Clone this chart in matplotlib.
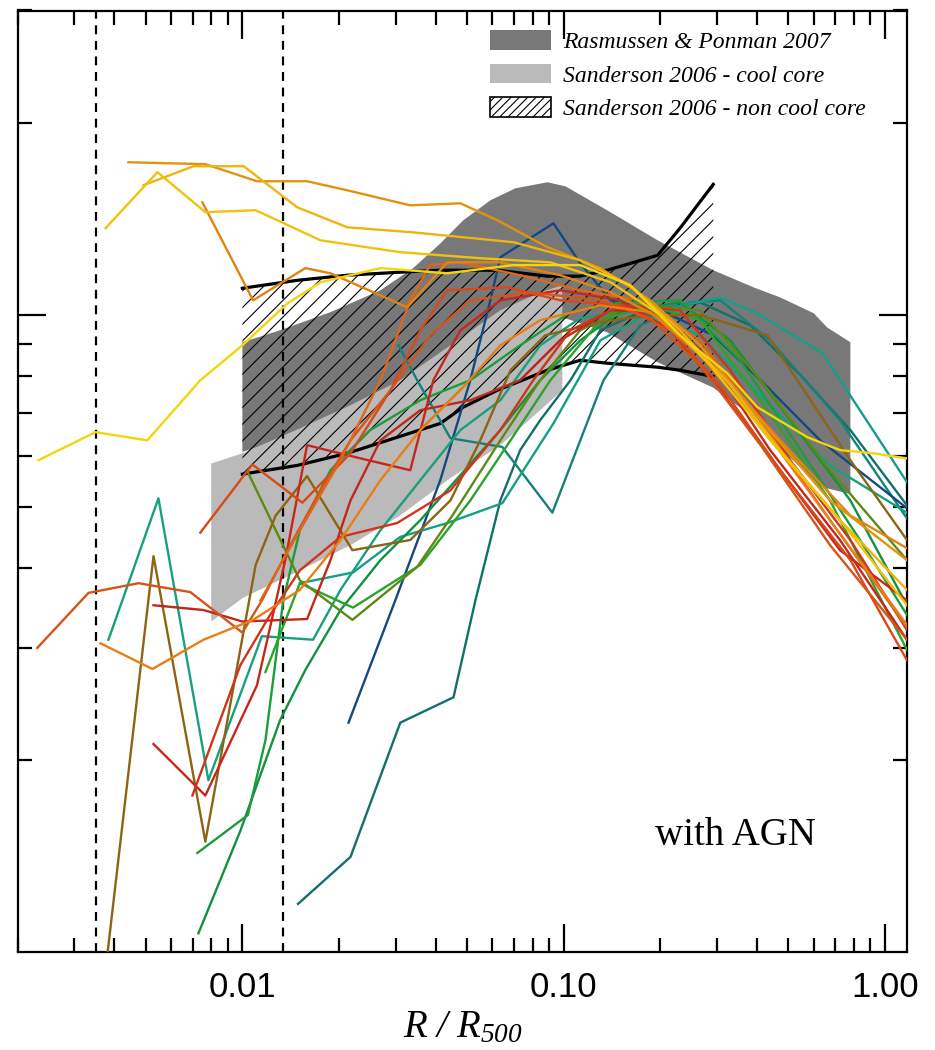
import matplotlib
matplotlib.use('agg')
import matplotlib.pyplot as plt
from matplotlib.patches import Patch
from matplotlib.ticker import FixedLocator, FixedFormatter, LogLocator, NullFormatter

plt.rcParams['hatch.linewidth'] = 0.8
plt.rcParams['mathtext.fontset'] = 'custom'
plt.rcParams['mathtext.it'] = 'Liberation Serif:italic'
plt.rcParams['mathtext.rm'] = 'Liberation Serif:italic'

# Rasmussen & Ponman 2007 (banda gris oscura)
rp_r = [0.0100, 0.0131, 0.0188, 0.0269, 0.0340, 0.0413, 0.0487, 0.0591, 0.0707, 0.0889,
        0.1011, 0.1365, 0.196, 0.292, 0.389, 0.472, 0.600, 0.660, 0.780]
rp_hi = [0.905, 0.945, 1.009, 1.092, 1.183, 1.293, 1.406, 1.511, 1.578, 1.613,
         1.590, 1.458, 1.308, 1.174, 1.104, 1.064, 1.005, 0.955, 0.905]
rp_lo = [0.609, 0.635, 0.671, 0.713, 0.747, 0.782, 0.812, 0.848, 0.885, 0.945,
         0.987, 0.938, 0.842, 0.768, 0.690, 0.617, 0.550, 0.534, 0.523]

# Sanderson 2006 - cool core (gris claro)
cc_r = [0.0080, 0.0100, 0.0151, 0.0217, 0.031, 0.0444, 0.0635, 0.0845, 0.099]
cc_hi = [0.584, 0.606, 0.663, 0.721, 0.789, 0.895, 1.016, 1.084, 1.112]
cc_lo = [0.330, 0.359, 0.397, 0.435, 0.484, 0.554, 0.624, 0.708, 0.761]

# Sanderson 2006 - non cool core (rayado)
ncc_r = [0.0100, 0.01483, 0.0212, 0.0303, 0.0413, 0.0487, 0.0622, 0.0889, 0.1125,
         0.1365, 0.196, 0.230, 0.292]
ncc_hi = [1.100, 1.132, 1.153, 1.165, 1.174, 1.174, 1.174, 1.149, 1.149,
          1.174, 1.239, 1.366, 1.601]
ncc_lo = [0.562, 0.580, 0.606, 0.642, 0.675, 0.716, 0.761, 0.818, 0.848,
          0.839, 0.827, 0.818, 0.800]

# radios de resolucion (lineas discontinuas)
r_lineas = [0.0035, 0.0134]

# perfiles simulados
p01_r = [0.00232, 0.00349, 0.00506, 0.0074, 0.0100, 0.0138, 0.0175, 0.0269, 0.0434, 0.0698,
         0.1125, 0.161, 0.230, 0.323, 0.400, 0.574, 0.724, 0.919, 1.17]
p01_k = [0.591, 0.654, 0.635, 0.789, 0.895, 1.041, 1.124, 1.183, 1.161, 1.196,
         1.196, 1.112, 0.928, 0.809, 0.716, 0.642, 0.613, 0.606, 0.595]
p02_r = [0.00492, 0.00704, 0.0101, 0.0148, 0.0212, 0.0340, 0.0698, 0.1125, 0.161, 0.230,
         0.330, 0.472, 0.724, 1.17]
p02_k = [1.596, 1.709, 1.709, 1.474, 1.371, 1.346, 1.299, 1.217, 1.112, 0.945,
         0.775, 0.613, 0.476, 0.370]
p03_r = [0.00442, 0.00767, 0.0111, 0.0159, 0.0212, 0.0333, 0.0477, 0.0622, 0.0889, 0.130,
         0.186, 0.266, 0.410, 0.674, 1.17]
p03_k = [1.734, 1.722, 1.619, 1.619, 1.567, 1.484, 1.495, 1.406, 1.276, 1.183,
         1.053, 0.895, 0.683, 0.511, 0.412]
p04_r = [0.00375, 0.00544, 0.00767, 0.0110, 0.0175, 0.031, 0.0550, 0.0909, 0.140, 0.200,
         0.286, 0.439, 0.724, 1.17]
p04_k = [1.366, 1.673, 1.448, 1.458, 1.308, 1.253, 1.226, 1.208, 1.124, 0.998,
         0.833, 0.635, 0.476, 0.350]
p05_r = [0.00751, 0.0108, 0.0157, 0.0188, 0.0326, 0.0434, 0.0635, 0.0975, 0.140, 0.200,
         0.307, 0.472, 0.780, 1.17]
p05_k = [1.500, 1.053, 1.183, 1.161, 1.027, 1.208, 1.208, 1.153, 1.084, 0.987,
         0.812, 0.635, 0.484, 0.430]
p06_r = [0.00230, 0.00332, 0.00475, 0.00689, 0.0100, 0.0115, 0.0141, 0.0175, 0.0217, 0.0289,
         0.0384, 0.0512, 0.0787, 0.130, 0.186, 0.266, 0.410, 0.674, 1.17]
p06_k = [0.300, 0.366, 0.379, 0.367, 0.317, 0.356, 0.435, 0.530, 0.635, 0.761,
         0.928, 1.053, 1.084, 1.053, 0.987, 0.833, 0.624, 0.435, 0.309]
p07_r = [0.00362, 0.00525, 0.00757, 0.0108, 0.0151, 0.0202, 0.0269, 0.0358, 0.0477, 0.0635,
         0.0845, 0.130, 0.186, 0.266, 0.410, 0.674, 1.17]
p07_k = [0.305, 0.278, 0.309, 0.332, 0.370, 0.443, 0.550, 0.659, 0.761, 0.895,
         0.980, 1.034, 1.009, 0.863, 0.671, 0.476, 0.326]
p08_r = [0.00383, 0.00548, 0.00784, 0.0115, 0.0166, 0.0202, 0.0269, 0.0358, 0.0477, 0.0635,
         0.0845, 0.1125, 0.161, 0.266, 0.410, 0.674, 1.17]
p08_k = [0.309, 0.515, 0.186, 0.313, 0.309, 0.370, 0.459, 0.550, 0.659, 0.734,
         0.895, 0.987, 1.016, 0.928, 0.747, 0.580, 0.489]
p09_r = [0.00380, 0.00529, 0.00767, 0.0110, 0.0127, 0.0159, 0.0220, 0.0333, 0.0444, 0.0550,
         0.0683, 0.0876, 0.130, 0.186, 0.266, 0.431, 0.546, 0.780, 1.17]
p09_k = [0.099, 0.418, 0.149, 0.405, 0.484, 0.558, 0.427, 0.443, 0.511, 0.635,
         0.818, 0.928, 0.973, 0.998, 0.998, 0.928, 0.775, 0.591, 0.443]
p10_r = [0.00529, 0.00767, 0.0111, 0.0136, 0.0159, 0.0233, 0.0333, 0.0393, 0.0477, 0.0635,
         0.0975, 0.150, 0.215, 0.307, 0.472, 0.724, 1.17]
p10_k = [0.212, 0.176, 0.262, 0.412, 0.624, 0.595, 0.570, 0.789, 0.945, 1.053,
         1.092, 1.053, 0.945, 0.761, 0.570, 0.427, 0.356]
p11_r = [0.00699, 0.00986, 0.0122, 0.0151, 0.0202, 0.0303, 0.0444, 0.0635, 0.0804, 0.105,
         0.150, 0.230, 0.330, 0.507, 0.780, 1.17]
p11_k = [0.176, 0.282, 0.338, 0.397, 0.448, 0.471, 0.530, 0.659, 0.789, 0.945,
         1.034, 1.016, 0.818, 0.591, 0.443, 0.320]
p12_r = [0.00529, 0.00757, 0.0100, 0.0159, 0.0188, 0.0217, 0.0269, 0.0358, 0.0512, 0.0732,
         0.0975, 0.140, 0.200, 0.286, 0.439, 0.724, 1.17]
p12_k = [0.350, 0.344, 0.330, 0.333, 0.412, 0.511, 0.635, 0.708, 0.734, 0.789,
         0.911, 1.016, 1.009, 0.848, 0.613, 0.443, 0.309]
p13_r = [0.0214, 0.0299, 0.0413, 0.0512, 0.0591, 0.0635, 0.0929, 0.1125, 0.140, 0.200,
         0.292, 0.410, 0.628, 1.17]
p13_k = [0.229, 0.356, 0.550, 0.789, 1.053, 1.230, 1.391, 1.204, 1.053, 1.016,
         0.928, 0.789, 0.635, 0.497]
p14_r = [0.0149, 0.0217, 0.031, 0.0454, 0.0531, 0.0635, 0.0732, 0.0845, 0.105, 0.130,
         0.173, 0.266, 0.381, 0.546, 0.780, 1.17]
p14_k = [0.119, 0.141, 0.229, 0.251, 0.356, 0.511, 0.613, 0.683, 0.789, 0.945,
         1.009, 1.045, 0.962, 0.803, 0.659, 0.502]
p15_r = [0.0306, 0.0350, 0.0444, 0.0644, 0.0922, 0.133, 0.173, 0.247, 0.307, 0.439,
         0.724, 1.17]
p15_k = [0.895, 0.789, 0.640, 0.620, 0.489, 0.789, 0.962, 1.045, 1.053, 0.911,
         0.683, 0.479]
p16_r = [0.00730, 0.00986, 0.0131, 0.0157, 0.0202, 0.0269, 0.0358, 0.0477, 0.0635, 0.0845,
         0.1125, 0.150, 0.230, 0.330, 0.507, 0.780, 1.17]
p16_k = [0.107, 0.155, 0.231, 0.277, 0.344, 0.412, 0.476, 0.560, 0.659, 0.789,
         0.911, 1.009, 1.045, 0.911, 0.683, 0.511, 0.350]
p17_r = [0.00724, 0.0104, 0.0118, 0.0134, 0.0151, 0.0188, 0.0250, 0.0358, 0.0512, 0.0732,
         0.105, 0.150, 0.230, 0.354, 0.546, 0.836, 1.17]
p17_k = [0.143, 0.164, 0.215, 0.356, 0.459, 0.570, 0.659, 0.734, 0.789, 0.895,
         1.009, 1.045, 1.053, 0.848, 0.613, 0.443, 0.338]
p18_r = [0.0118, 0.0151, 0.0221, 0.0358, 0.0512, 0.0683, 0.0909, 0.130, 0.186, 0.266,
         0.410, 0.674, 1.17]
p18_k = [0.275, 0.379, 0.347, 0.405, 0.511, 0.635, 0.789, 0.980, 1.034, 0.980,
         0.734, 0.511, 0.298]
p19_r = [0.0104, 0.0151, 0.0220, 0.0350, 0.0454, 0.0635, 0.0845, 0.1125, 0.161, 0.266,
         0.410, 0.674, 1.17]
p19_k = [0.566, 0.383, 0.332, 0.402, 0.487, 0.635, 0.789, 0.945, 1.034, 1.016,
         0.789, 0.570, 0.412]
p20_r = [0.0151, 0.0221, 0.031, 0.0434, 0.0644, 0.0929, 0.130, 0.186, 0.307, 0.400,
         0.641, 0.797, 1.17]
p20_k = [0.379, 0.394, 0.448, 0.471, 0.506, 0.675, 0.911, 1.009, 1.064, 1.005,
         0.869, 0.734, 0.546]
p21_r = [0.0074, 0.01074, 0.01537, 0.0217, 0.0289, 0.0358, 0.0434, 0.0667, 0.0975, 0.150,
         0.215, 0.307, 0.472, 0.780, 1.17]
p21_k = [0.455, 0.582, 0.507, 0.606, 0.761, 0.945, 1.092, 1.104, 1.053, 1.034,
         0.945, 0.775, 0.570, 0.412, 0.287]
p22_r = [0.01138, 0.0151, 0.0202, 0.0269, 0.0333, 0.0384, 0.0477, 0.0732, 0.1125, 0.173,
         0.266, 0.410, 0.674, 1.17]
p22_k = [0.356, 0.459, 0.591, 0.789, 1.053, 1.196, 1.208, 1.153, 1.092, 1.053,
         0.911, 0.683, 0.476, 0.323]

# orden de dibujo: verdes/azules primero, amarillos al final
perfiles = [
    (p14_r, p14_k, '#137068'), (p15_r, p15_k, '#17807a'), (p13_r, p13_k, '#124a80'),
    (p20_r, p20_k, '#14a088'), (p08_r, p08_k, '#18a07e'), (p16_r, p16_k, '#139040'),
    (p17_r, p17_k, '#1c9c3c'), (p18_r, p18_k, '#2aa42a'), (p19_r, p19_k, '#5e8a14'),
    (p09_r, p09_k, '#8c6414'), (p12_r, p12_k, '#c0281c'), (p10_r, p10_k, '#c8261a'),
    (p11_r, p11_k, '#d0341a'), (p21_r, p21_k, '#d84818'), (p06_r, p06_k, '#d4541a'),
    (p22_r, p22_k, '#e0661a'), (p07_r, p07_k, '#e87e14'), (p05_r, p05_k, '#e08412'),
    (p03_r, p03_k, '#e2930e'), (p02_r, p02_k, '#efb40e'), (p04_r, p04_k, '#f0c20e'),
    (p01_r, p01_k, '#f4d40c'),
]

fig = plt.figure(figsize=(9.35, 10.5), dpi=100)
ax = fig.add_axes([0.019, 0.0933, 0.951, 0.8967])
ax.set_xscale('log')
ax.set_yscale('log')
ax.set_xlim(0.002, 1.17)
ax.set_ylim(0.1, 3.0)

ax.fill_between(rp_r, rp_lo, rp_hi, facecolor='#787878', edgecolor='none', zorder=1)
ax.fill_between(cc_r, cc_lo, cc_hi, facecolor='#bababa', edgecolor='none', zorder=2)
ax.fill_between(ncc_r, ncc_lo, ncc_hi, facecolor='none', edgecolor='black',
                hatch='//', linewidth=0, zorder=3)
ax.plot(ncc_r, ncc_hi, color='black', lw=2.3, zorder=4)
ax.plot(ncc_r, ncc_lo, color='black', lw=2.3, zorder=4)

for xr in r_lineas:
    ax.axvline(xr, color='black', lw=1.6, ls=(0, (4, 3)), zorder=5)

for r, k, c in perfiles:
    ax.plot(r, k, color=c, lw=1.7, zorder=6)

# ejes
for s in ax.spines.values():
    s.set_linewidth(1.6)
ax.xaxis.set_major_locator(FixedLocator([0.01, 0.1, 1.0]))
ax.xaxis.set_major_formatter(FixedFormatter(['0.01', '0.10', '1.00']))
ax.xaxis.set_minor_locator(LogLocator(base=10, subs=range(2, 10)))
ax.xaxis.set_minor_formatter(NullFormatter())
ax.yaxis.set_major_locator(FixedLocator([1.0]))
ax.yaxis.set_minor_locator(LogLocator(base=10, subs=range(2, 10)))
ax.yaxis.set_major_formatter(NullFormatter())
ax.yaxis.set_minor_formatter(NullFormatter())
ax.tick_params(which='both', direction='in', top=True, right=True, width=1.6)
ax.tick_params(which='major', length=20)
ax.tick_params(which='minor', length=10)
ax.tick_params(axis='x', which='major', pad=14, labelsize=25)
for lab in ax.get_xticklabels():
    lab.set_family('Liberation Sans')

ax.set_xlabel(r'$R\ /\ R_{500}$', fontsize=28, labelpad=2)

ax.text(0.7165, 0.1136, 'with AGN', transform=ax.transAxes, fontsize=28,
        family='Liberation Serif', va='baseline', ha='left', zorder=7)

handles = [
    Patch(facecolor='#787878', edgecolor='none', label='Rasmussen & Ponman 2007'),
    Patch(facecolor='#bababa', edgecolor='none', label='Sanderson 2006 - cool core'),
    Patch(facecolor='white', edgecolor='black', hatch='////', lw=1.2,
          label='Sanderson 2006 - non cool core'),
]
leg = ax.legend(handles=handles, loc='upper left', bbox_to_anchor=(0.531, 0.979),
                frameon=False, borderpad=0, borderaxespad=0, handlelength=2.6,
                handleheight=0.9, handletextpad=0.5, labelspacing=0.45,
                prop={'family': 'Liberation Serif', 'style': 'italic', 'size': 17})
leg.set_zorder(8)

fig.savefig('out.png', dpi=100)
